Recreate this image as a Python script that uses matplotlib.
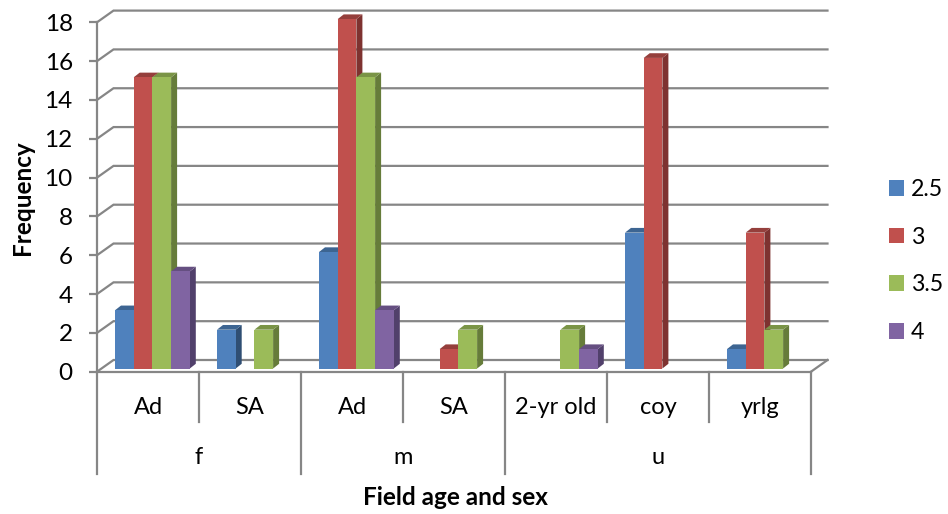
import matplotlib
matplotlib.use("Agg")
import matplotlib.pyplot as plt
import numpy as np

plt.rcParams['font.family'] = ['Lato', 'DejaVu Sans']

# ---- data ----
categories = ["Ad", "SA", "Ad", "SA", "2-yr old", "coy", "yrlg"]
groups = ["f", "m", "u"]
group_spans = [(0, 2), (2, 4), (4, 7)]
series_names = ["2.5", "3", "3.5", "4"]
s25 = [3, 2, 6, 0, 0, 7, 1]
s30 = [15, 0, 18, 1, 0, 16, 7]
s35 = [15, 2, 15, 2, 2, 0, 2]
s40 = [5, 0, 3, 0, 1, 0, 0]
y_ticks = list(range(0, 20, 2))

# ---- style ----
front = ["#4F81BD", "#C0504D", "#9BBB59", "#8064A2"]
side = ["#2F4E73", "#7E3230", "#667C3A", "#51406B"]
top = ["#3D6592", "#953F3C", "#7A9446", "#654F81"]
GRID = "#868686"
W, H = 948, 514
L, R, T, B = 97, 811, 22.3, 371.7
px_x = (R - L) / 7
px_y = (B - T) / 18
WALL_DX, WALL_DY = 16.5 / px_x, 11.7 / px_y
BAR_DX, BAR_DY = 6.0 / px_x, 4.7 / px_y
BAR_W = 18.7 / px_x
BAR_X0 = 18.0 / px_x
BAR_BASE = 3.2 / px_y

fig = plt.figure(figsize=(W / 100, H / 100), dpi=100, facecolor="white")
ax = fig.add_axes([L / W, 1 - B / H, (R - L) / W, (B - T) / H])
ax.set_xlim(0, 7)
ax.set_ylim(0, 18)
ax.patch.set_visible(False)

# walls and floor
for v in y_ticks:
    ax.plot([0, WALL_DX, 7 + WALL_DX], [v, v + WALL_DY, v + WALL_DY],
            color=GRID, lw=1.6, clip_on=False, zorder=1, solid_joinstyle="miter")
ax.plot([7, 7 + WALL_DX], [0, WALL_DY], color=GRID, lw=1.6, clip_on=False, zorder=1)

# bars
n = len(categories)
series = [s25, s30, s35, s40]
z = 3
for c in range(n):
    for i, vals in enumerate(series):
        v = vals[c]
        if v <= 0:
            continue
        x0 = c + BAR_X0 + i * BAR_W
        x1 = x0 + BAR_W
        yb = BAR_BASE
        yt = BAR_BASE + v
        ax.fill([x1, x1 + BAR_DX, x1 + BAR_DX, x1],
                [yb, yb + BAR_DY, yt + BAR_DY, yt],
                color=side[i], lw=0, clip_on=False, zorder=z)
        ax.fill([x0, x0 + BAR_DX, x1 + BAR_DX, x1],
                [yt, yt + BAR_DY, yt + BAR_DY, yt],
                color=top[i], lw=0, clip_on=False, zorder=z)
        ax.bar(x0, v, width=BAR_W, bottom=BAR_BASE, align="edge",
               color=front[i], lw=0, clip_on=False, zorder=z + 0.5)
        z += 1

# axes
for s in ["top", "right"]:
    ax.spines[s].set_visible(False)
for s in ["left", "bottom"]:
    ax.spines[s].set_color(GRID)
    ax.spines[s].set_linewidth(1.6)
    ax.spines[s].set_zorder(2)
ax.set_yticks(y_ticks)
ax.tick_params(axis="y", length=6, width=1.6, color=GRID, pad=11.5, labelsize=17.5,
               labelcolor="black")
ax.set_xticks([])

# multi-level category axis
xf = ax.get_xaxis_transform()
level1 = -50.5 / (B - T)
level2 = -102 / (B - T)
for k in range(n + 1):
    is_group = k in (0, 2, 4, 7)
    ax.plot([k, k], [0, level2 if is_group else level1], transform=xf,
            color=GRID, lw=1.6, clip_on=False, zorder=2)
for k, name in enumerate(categories):
    ax.text(k + 0.5, -35.5 / (B - T), name, transform=xf, ha="center", va="center",
            fontsize=17, color="black")
for name, (a, b) in zip(groups, group_spans):
    ax.text((a + b) / 2, -86 / (B - T), name, transform=xf, ha="center", va="center",
            fontsize=17, color="black")

ax.set_xlabel("Field age and sex", fontsize=17.5, fontweight="bold")
ax.xaxis.set_label_coords((455 - L) / (R - L), -126 / (B - T))
ax.xaxis.label.set_va("center")
ax.set_ylabel("Frequency", fontsize=17.5, fontweight="bold")
ax.yaxis.set_label_coords((22 - L) / (R - L), (B - 198) / (B - T))
ax.yaxis.label.set_va("center")

# legend
handles = [plt.Rectangle((0, 0), 1, 1, color=c, lw=0) for c in front]
fig.legend(handles, series_names, loc="center left",
           bbox_to_anchor=(889 / W, 1 - 261 / H), borderaxespad=0, borderpad=0,
           frameon=False, fontsize=16.7, handlelength=0.65, handleheight=0.65,
           handletextpad=0.3, labelspacing=1.15)

fig.savefig("out.png", dpi=100, facecolor="white")
